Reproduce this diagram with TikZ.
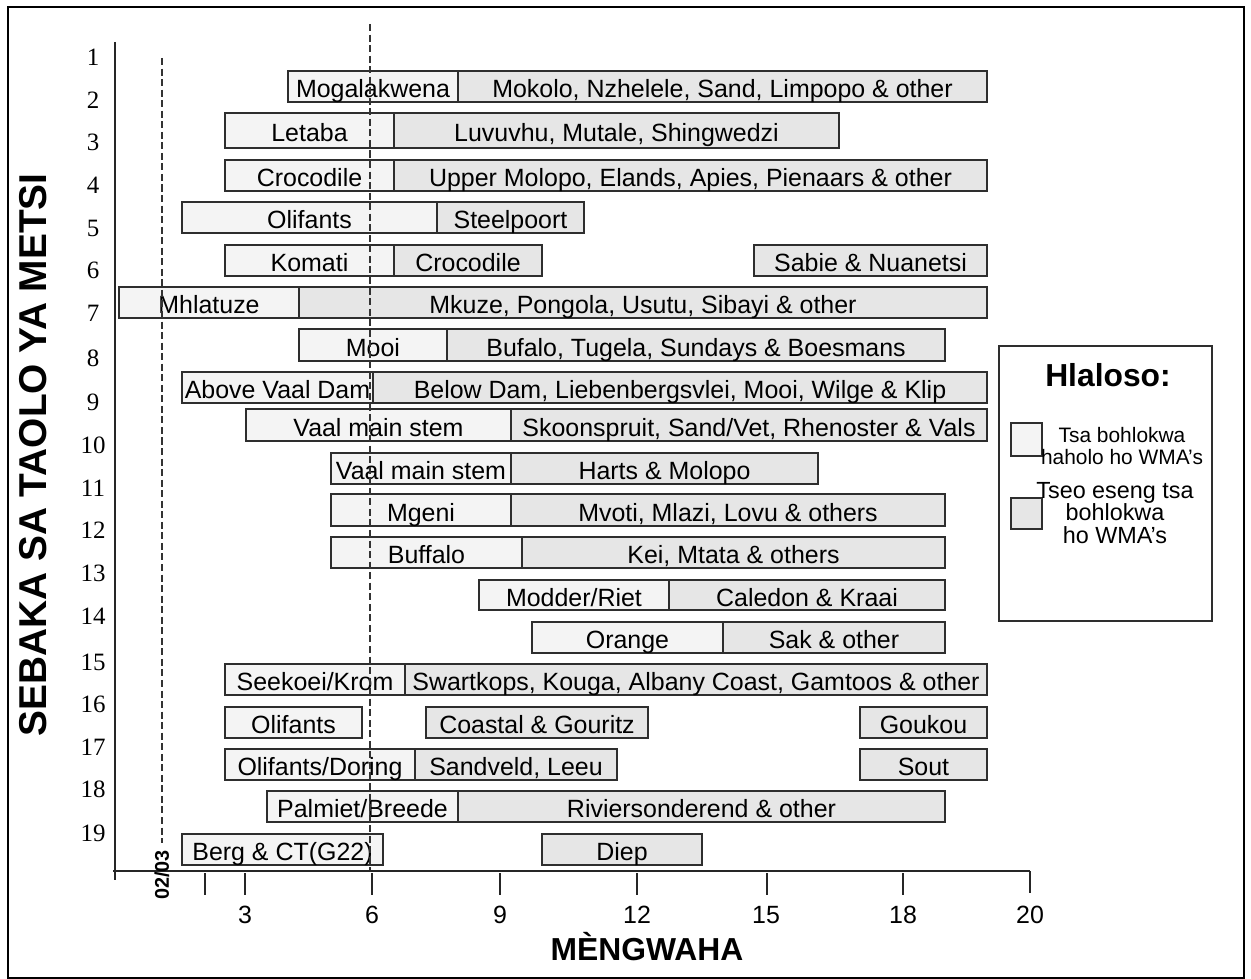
\documentclass[tikz,border=0pt]{standalone}
\usepackage{fontspec}
\setmainfont{Liberation Sans}
\newfontfamily\numserif{Liberation Serif}
\usepackage{xcolor}
\usepackage{tikz}

\definecolor{barline}{HTML}{2E2E2E}
\definecolor{lightfill}{HTML}{F4F4F4}
\definecolor{greyfill}{HTML}{E6E6E6}

\begin{document}
\begin{tikzpicture}[x=0.02cm, y=-0.02cm,
    wbox/.style={draw=barline, line width=0.8pt, fill=lightfill},
    gbox/.style={draw=barline, line width=0.8pt, fill=greyfill},
    blab/.style={midway, inner sep=0pt, text height=13pt, text depth=0pt, font=\fontsize{14.2}{17}\selectfont},
    ynum/.style={inner sep=0pt, font=\numserif\fontsize{14.2}{17}\selectfont},
    xnum/.style={inner sep=0pt, font=\fontsize{14.2}{17}\selectfont},
    axisline/.style={line width=0.8pt, black!85},
    guide/.style={line width=0.6pt, black!80, dash pattern=on 4pt off 2pt}]

          \useasboundingbox (0,0) rectangle (1251,979);
          \draw[line width=0.8pt] (8,7) rectangle (1244,978);

          % bars, one row per area
          \draw[wbox] (288,71) rectangle (458,102) node[blab] (L1) {Mogalakwena};
          \draw[gbox] (458,71) rectangle (987,102) node[blab] (R1) {Mokolo, Nzhelele, Sand, Limpopo \& other};
          \draw[wbox] (225,113) rectangle (394,148) node[blab] (L2) {Letaba};
          \draw[gbox] (394,113) rectangle (839,148) node[blab] (R2) {Luvuvhu, Mutale, Shingwedzi};
          \draw[wbox] (225,160) rectangle (394,191) node[blab] (L3) {Crocodile};
          \draw[gbox] (394,160) rectangle (987,191) node[blab] (R3) {Upper Molopo, Elands, Apies, Pienaars \& other};
          \draw[wbox] (182,202) rectangle (437,233) node[blab] (L4) {Olifants};
          \draw[gbox] (437,202) rectangle (584,233) node[blab] (R4) {Steelpoort};
          \draw[wbox] (225,245) rectangle (394,276) node[blab] (L5) {Komati};
          \draw[gbox] (394,245) rectangle (542,276) node[blab] (R5) {Crocodile};
          \draw[gbox] (754,245) rectangle (987,276) node[blab] (S5) {Sabie \& Nuanetsi};
          \draw[wbox] (119,287) rectangle (299,318) node[blab] (L6) {Mhlatuze};
          \draw[gbox] (299,287) rectangle (987,318) node[blab] (R6) {Mkuze, Pongola, Usutu, Sibayi \& other};
          \draw[wbox] (299,329) rectangle (447,361) node[blab] (L7) {Mooi};
          \draw[gbox] (447,329) rectangle (945,361) node[blab] (R7) {Bufalo, Tugela, Sundays \& Boesmans};
          \draw[wbox] (182,372) rectangle (373,403) node[blab] (L8) {Above Vaal Dam};
          \draw[gbox] (373,372) rectangle (987,403) node[blab] (R8) {Below Dam, Liebenbergsvlei, Mooi, Wilge \& Klip};
          \draw[wbox] (246,409) rectangle (511,441) node[blab] (L9) {Vaal main stem};
          \draw[gbox] (511,409) rectangle (987,441) node[blab] (R9) {Skoonspruit, Sand/Vet, Rhenoster \& Vals};
          \draw[wbox] (331,453) rectangle (511,484) node[blab] (L10) {Vaal main stem};
          \draw[gbox] (511,453) rectangle (818,484) node[blab] (R10) {Harts \& Molopo};
          \draw[wbox] (331,494) rectangle (511,526) node[blab] (L11) {Mgeni};
          \draw[gbox] (511,494) rectangle (945,526) node[blab] (R11) {Mvoti, Mlazi, Lovu \& others};
          \draw[wbox] (331,537) rectangle (522,568) node[blab] (L12) {Buffalo};
          \draw[gbox] (522,537) rectangle (945,568) node[blab] (R12) {Kei, Mtata \& others};
          \draw[wbox] (479,580) rectangle (669,610) node[blab] (L13) {Modder/Riet};
          \draw[gbox] (669,580) rectangle (945,610) node[blab] (R13) {Caledon \& Kraai};
          \draw[wbox] (532,622) rectangle (723,653) node[blab] (L14) {Orange};
          \draw[gbox] (723,622) rectangle (945,653) node[blab] (R14) {Sak \& other};
          \draw[wbox] (225,664) rectangle (405,695) node[blab] (L15) {Seekoei/Krom};
          \draw[gbox] (405,664) rectangle (987,695) node[blab] (R15) {Swartkops, Kouga, Albany Coast, Gamtoos \& other};
          \draw[wbox] (225,707) rectangle (362,738) node[blab] (L16) {Olifants};
          \draw[gbox] (426,707) rectangle (648,738) node[blab] (R16) {Coastal \& Gouritz};
          \draw[gbox] (860,707) rectangle (987,738) node[blab] (S16) {Goukou};
          \draw[wbox] (225,749) rectangle (415,780) node[blab] (L17) {Olifants/Doring};
          \draw[gbox] (415,749) rectangle (617,780) node[blab] (R17) {Sandveld, Leeu};
          \draw[gbox] (860,749) rectangle (987,780) node[blab] (S17) {Sout};
          \draw[wbox] (267,791) rectangle (458,822) node[blab] (L18) {Palmiet/Breede};
          \draw[gbox] (458,791) rectangle (945,822) node[blab] (R18) {Riviersonderend \& other};
          \draw[wbox] (182,834) rectangle (383,865) node[blab] (L19) {Berg \& CT(G22)};
          \draw[gbox] (542,834) rectangle (702,865) node[blab] (R19) {Diep};

          % guide lines
          \draw[guide] (162,58) -- (162,843);
          \draw[guide] (370,24) -- (370,870);

          % axes
          \draw[axisline] (115,42) -- (115,880);
          \draw[axisline] (113,871) -- (1030,871);
          \draw[axisline] (205,873) -- (205,895);
          \draw[axisline] (245,873) -- (245,895);
          \draw[axisline] (372,873) -- (372,895);
          \draw[axisline] (500,873) -- (500,895);
          \draw[axisline] (637,873) -- (637,895);
          \draw[axisline] (767,873) -- (767,895);
          \draw[axisline] (903,873) -- (903,895);
          \draw[axisline] (1030,871) -- (1030,893);

          \node[xnum] (m3) at (245,915) {3};
          \node[xnum] (m6) at (372,915) {6};
          \node[xnum] (m9) at (500,915) {9};
          \node[xnum] (m12) at (637,915) {12};
          \node[xnum] (m15) at (766,915) {15};
          \node[xnum] (m18) at (903,915) {18};
          \node[xnum] (m20) at (1030,915) {20};
          \node[rotate=90, inner sep=0pt, font=\bfseries\fontsize{11.3}{13}\selectfont] (start) at (162,875) {02/03};
          \node[anchor=base, inner sep=0pt, font=\bfseries\fontsize{18.1}{21}\selectfont] (xtitle) at (647,960) {MÈNGWAHA};

          \node[ynum] (n1) at (93,57) {1};
          \node[ynum] (n2) at (93,100) {2};
          \node[ynum] (n3) at (93,142) {3};
          \node[ynum] (n4) at (93,185) {4};
          \node[ynum] (n5) at (93,228) {5};
          \node[ynum] (n6) at (93,270) {6};
          \node[ynum] (n7) at (93,313) {7};
          \node[ynum] (n8) at (93,358) {8};
          \node[ynum] (n9) at (93,402) {9};
          \node[ynum] (n10) at (93,445) {10};
          \node[ynum] (n11) at (93,488) {11};
          \node[ynum] (n12) at (93,530) {12};
          \node[ynum] (n13) at (93,573) {13};
          \node[ynum] (n14) at (93,616) {14};
          \node[ynum] (n15) at (93,662) {15};
          \node[ynum] (n16) at (93,704) {16};
          \node[ynum] (n17) at (93,747) {17};
          \node[ynum] (n18) at (93,789) {18};
          \node[ynum] (n19) at (93,833) {19};
          \node[rotate=90, inner sep=0pt, font=\bfseries\fontsize{22.1}{26}\selectfont] (ytitle) at (33,455) {SEBAKA SA TAOLO YA METSI};

          % legend
          \draw[line width=0.6pt, barline] (999,346) rectangle (1212,621);
          \node[inner sep=0pt, font=\bfseries\fontsize{18.1}{21}\selectfont] (key) at (1108,375) {Hlaloso:};
          \draw[wbox] (1011,423) rectangle (1042,456);
          \node[inner sep=0pt, align=center, font=\fontsize{11.9}{12}\selectfont] (keyw) at (1122,446) {Tsa bohlokwa\\haholo ho WMA’s};
          \draw[gbox] (1011,498) rectangle (1042,529);
          \node[inner sep=0pt, align=center, font=\fontsize{13.3}{13}\selectfont] (keyg) at (1115,513) {Tseo eseng tsa\\bohlokwa\\ho WMA’s};
        \end{tikzpicture}
\end{document}
